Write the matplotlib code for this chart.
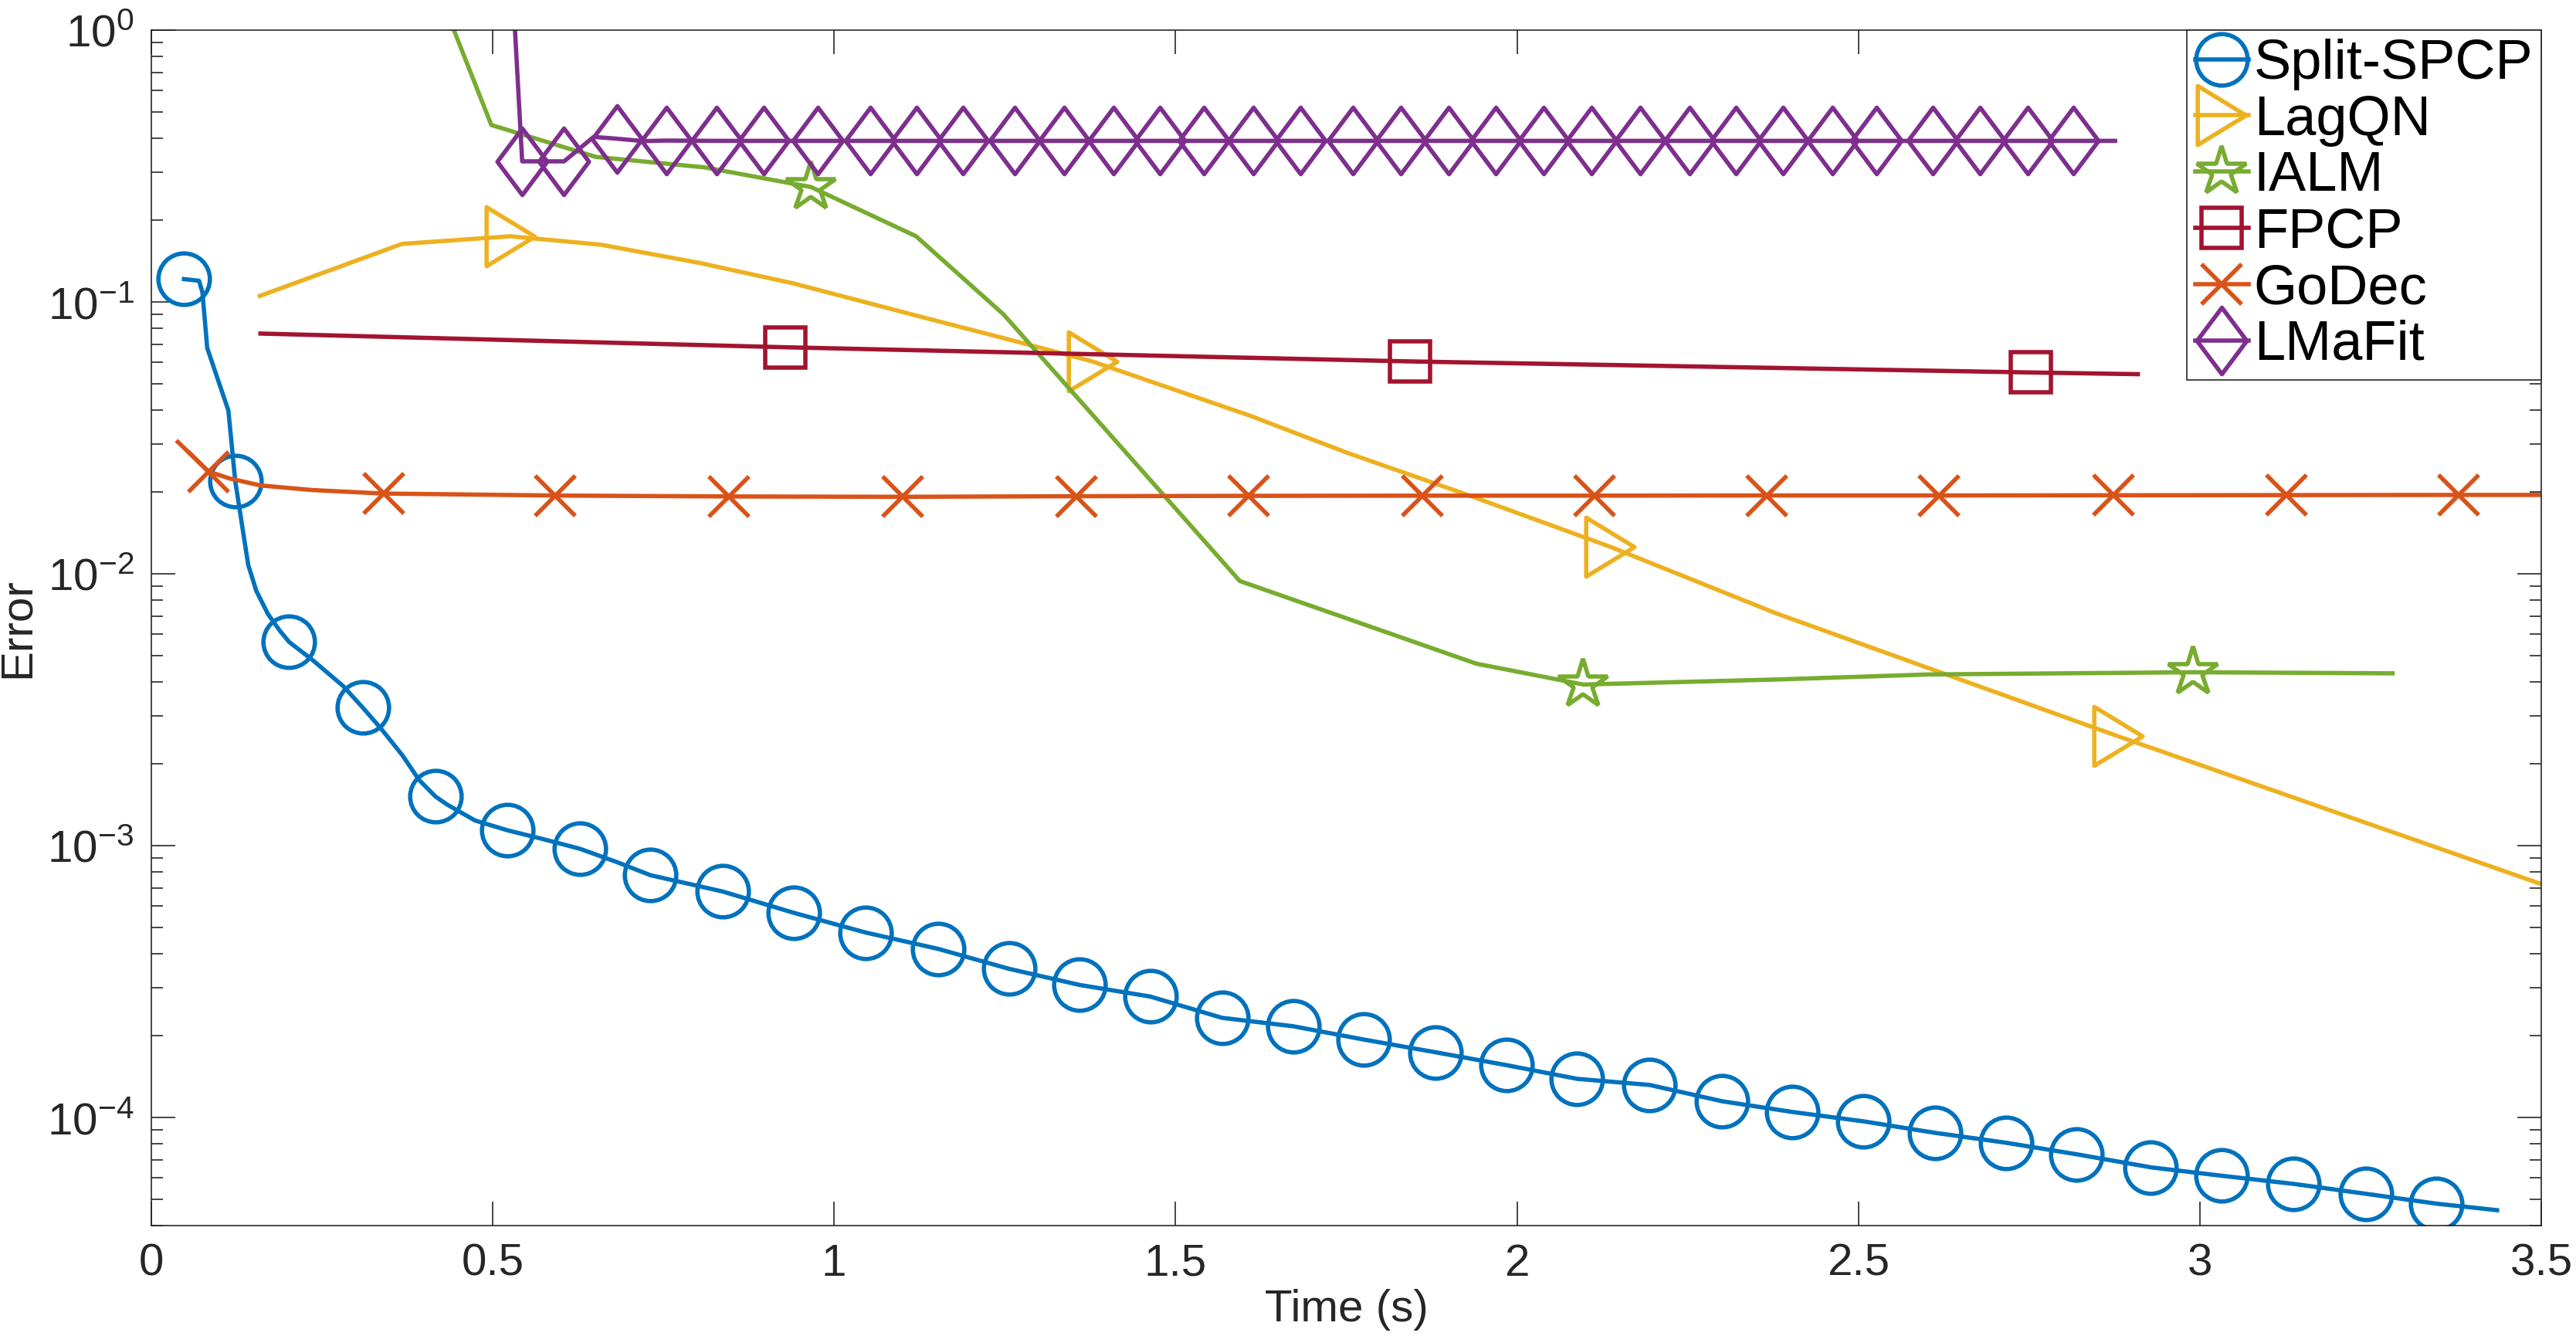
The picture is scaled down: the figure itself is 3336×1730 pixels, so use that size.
import numpy as np
import matplotlib.pyplot as plt
from matplotlib.path import Path

plt.rcParams['font.family'] = ['Liberation Sans', 'DejaVu Sans']
plt.rcParams['mathtext.default'] = 'regular'

# ------ data ------
labels = ['Split-SPCP', 'LagQN', 'IALM', 'FPCP', 'GoDec', 'LMaFit']

spcp_t = [0.048, 0.070, 0.075, 0.082, 0.113, 0.123, 0.142, 0.154, 0.171, 0.188,
          0.202, 0.236, 0.281, 0.310, 0.337, 0.368, 0.392, 0.416, 0.433, 0.474,
          0.522, 0.573, 0.628, 0.681, 0.731, 0.837, 0.941, 1.046, 1.152, 1.256,
          1.359, 1.463, 1.568, 1.672, 1.775, 1.881, 1.985, 2.088, 2.194, 2.300,
          2.403, 2.507, 2.612, 2.716, 2.819, 2.928, 3.031, 3.137, 3.243, 3.346, 3.435]
spcp_err = [0.1215, 0.1198, 0.1087, 0.0678, 0.0399, 0.0220, 0.01081, 0.00865, 0.00712, 0.00620,
            0.00562, 0.00483, 0.00387, 0.00322, 0.00269, 0.00215, 0.00175, 0.00152, 0.00142, 0.00124,
            0.00114, 0.00106, 0.000975, 0.000873, 0.000780, 0.000679, 0.000567, 0.000480, 0.000418, 0.000353,
            0.000308, 0.000279, 0.000233, 0.000217, 0.000194, 0.000174, 0.000156, 0.000139, 0.000132, 0.000115,
            0.000105, 9.70e-5, 8.80e-5, 8.09e-5, 7.34e-5, 6.57e-5, 6.12e-5, 5.71e-5, 5.25e-5, 4.83e-5, 4.57e-5]
spcp_mk = [0, 5, 10, 13, 17, 20, 22, 24] + list(range(25, 50))

lagqn_t = [0.159, 0.367, 0.526, 0.659, 0.803, 0.940, 1.127, 1.248, 1.378, 1.609,
           1.753, 1.926, 2.136, 2.379, 2.880, 3.502]
lagqn_err = [0.1053, 0.1636, 0.1746, 0.1625, 0.1393, 0.1172, 0.0883, 0.0737, 0.0605, 0.0382,
             0.0278, 0.0196, 0.0126, 0.00717, 0.00253, 0.00072]
lagqn_mk = [2, 8, 12, 14]

ialm_t = [0.388, 0.498, 0.651, 0.810, 0.966, 1.120, 1.248, 1.594, 1.940, 2.097,
          2.379, 2.603, 2.990, 3.282]
ialm_err = [2.25, 0.448, 0.342, 0.313, 0.265, 0.1746, 0.0901, 0.00942, 0.00468, 0.00392,
            0.00409, 0.00427, 0.00435, 0.00431]
ialm_mk = [4, 9, 12]

fpcp_t = [0.160, 0.929, 1.843, 2.752, 2.909]
fpcp_err = [0.0766, 0.0682, 0.0605, 0.0551, 0.0543]
fpcp_mk = [1, 2, 3]

godec_t = [0.039, 0.084, 0.115, 0.160, 0.236, 0.340, 0.592, 0.846, 1.100, 1.355,
           1.607, 1.861, 2.113, 2.366, 2.618, 2.873, 3.126, 3.379, 3.502]
godec_err = [0.0306, 0.0238, 0.02244, 0.02116, 0.02035, 0.01976, 0.01943, 0.01928, 0.01922, 0.01932,
             0.01938, 0.01941, 0.01941, 0.01944, 0.01944, 0.01947, 0.01950, 0.01953, 0.01953]
godec_mk = [1] + list(range(5, 18))

lmafit_t = [0.525, 0.5432, 0.6045, 0.6478, 0.6815, 0.7205, 0.7544, 0.8278, 0.8970, 0.9762,
            1.0527, 1.1205, 1.1884, 1.2646, 1.3368, 1.4090, 1.4768, 1.5418, 1.6137, 1.6830,
            1.7594, 1.8302, 1.8992, 1.9685, 2.0392, 2.1085, 2.1804, 2.2526, 2.3204, 2.3897,
            2.4618, 2.5266, 2.6089, 2.6782, 2.7474, 2.8150, 2.8756]
lmafit_err = [2.25, 0.3293, 0.3293, 0.405, 0.399, 0.391, 0.3927, 0.3917, 0.3917, 0.3917,
              0.3917, 0.3917, 0.3917, 0.3917, 0.3917, 0.3917, 0.3917, 0.3917, 0.3917, 0.3917,
              0.3917, 0.3917, 0.3917, 0.3917, 0.3917, 0.3917, 0.3917, 0.3917, 0.3917, 0.3917,
              0.3917, 0.3917, 0.3917, 0.3917, 0.3917, 0.3917, 0.3917]
lmafit_mk = [1, 2, 4] + list(range(6, 36))

xticks = [0, 0.5, 1, 1.5, 2, 2.5, 3, 3.5]
xticklabels = ['0', '0.5', '1', '1.5', '2', '2.5', '3', '3.5']

# MATLAB-like marker shapes
tri_right = Path([(-0.82, 1), (0.82, 0), (-0.82, -1), (-0.82, 1)],
                 [Path.MOVETO, Path.LINETO, Path.LINETO, Path.CLOSEPOLY])
diamond = Path([(0, 1), (0.75, 0), (0, -1), (-0.75, 0), (0, 1)],
               [Path.MOVETO, Path.LINETO, Path.LINETO, Path.LINETO, Path.CLOSEPOLY])

fig = plt.figure(figsize=(16.68, 8.65), dpi=200)
ax = fig.add_axes([0.0587, 0.0824, 0.9279, 0.8950])

lw = 2.0
ax.plot(spcp_t, spcp_err, '-', color='#0072BD', lw=lw, marker='o', ms=24, mfc='none', mew=lw,
        markevery=spcp_mk, label=labels[0])
ax.plot(lagqn_t, lagqn_err, '-', color='#EDB120', lw=lw, marker=tri_right, ms=27.5, mfc='none', mew=lw,
        markevery=lagqn_mk, label=labels[1])
ax.plot(ialm_t, ialm_err, '-', color='#77AC30', lw=lw, marker='*', ms=24, mfc='none', mew=lw,
        markevery=ialm_mk, label=labels[2])
ax.plot(fpcp_t, fpcp_err, '-', color='#A2142F', lw=lw, marker='s', ms=18.7, mfc='none', mew=lw,
        markevery=fpcp_mk, label=labels[3])
ax.plot(godec_t, godec_err, '-', color='#D95319', lw=lw, marker='x', ms=19, mew=lw,
        markevery=godec_mk, label=labels[4])
ax.plot(lmafit_t, lmafit_err, '-', color='#7E2F8E', lw=lw, marker=diamond, ms=31, mfc='none', mew=lw,
        markevery=lmafit_mk, label=labels[5])

ax.set_yscale('log')
ax.set_xlim(0, 3.5)
ax.set_ylim(4e-5, 1)
ax.set_xticks(xticks)
ax.set_xticklabels(xticklabels)

dark = '#262626'
ax.tick_params(which='both', direction='in', top=True, right=True, colors=dark,
               labelsize=21, width=0.6)
ax.tick_params(which='major', length=11)
ax.tick_params(which='minor', length=5.5)
ax.tick_params(axis='x', pad=8)
ax.tick_params(axis='y', pad=8)
for s in ax.spines.values():
    s.set_color(dark)
    s.set_linewidth(0.6)

ax.set_xlabel('Time (s)', fontsize=21, color=dark, labelpad=2)
ax.set_ylabel('Error', fontsize=21, color=dark, labelpad=4)

leg = ax.legend(loc='upper right', fontsize=26, borderaxespad=0, handlelength=0.95,
                handletextpad=0.1, borderpad=0.15, labelspacing=0.08, fancybox=False,
                framealpha=1, edgecolor=dark)
leg.get_frame().set_linewidth(0.6)

fig.savefig('out.png', dpi=200)
